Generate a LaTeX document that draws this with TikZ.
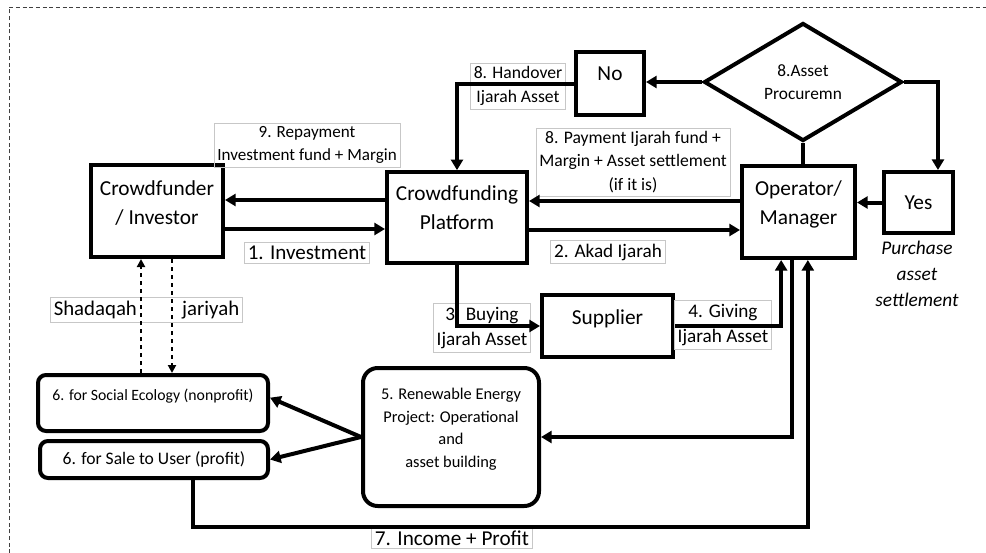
\documentclass[tikz,border=0pt]{standalone}
\usepackage{fontspec}
\setmainfont{Carlito}
\usetikzlibrary{arrows.meta,shapes.geometric}

\begin{document}
\begin{tikzpicture}[x=0.75pt,y=-0.75pt,>={Triangle[length=8pt,width=9pt]},
  box/.style={draw,line width=3pt,align=center,inner sep=0pt,
    font=\fontsize{16}{21.75}\selectfont},
  lbl/.style={draw=black!22,line width=0.5pt,align=center,inner sep=2.5pt},
  flow/.style={line width=3pt,->},
  gift/.style={line width=1.6pt,dashed,-{Triangle[length=6pt,width=6pt]}}]
\useasboundingbox (0,0) rectangle (986,553);
\draw[densely dashed,line width=0.5pt,black!75] (9,560) -- (9,7) -- (995,7);

\node[box,minimum width=99pt,minimum height=69pt,text depth=12.5pt] (crowd) at (157,211)
  {Crowdfunder\\/ Investor};
\node[box,minimum width=105pt,minimum height=68pt,text depth=14.5pt] (platform) at (457,217.5)
  {Crowdfunding\\Platform};
\node[box,minimum width=84.75pt,minimum height=69pt,text depth=13.5pt] (oper) at (798.5,212)
  {Operator/\\Manager};
\node[box,minimum width=51.75pt,minimum height=45.75pt] (yes) at (918.5,202.5) {Yes};
\node[box,minimum width=51pt,minimum height=47.25pt,text depth=14.5pt] (no) at (610,83.5) {No};
\node[box,diamond,minimum width=148.5pt,minimum height=88.5pt,
  font=\fontsize{13}{17.5}\selectfont] (asset) at (803,82) {8.Asset\\Procuremn};
\node[box,minimum width=98.25pt,minimum height=46.5pt,text depth=14pt] (supplier) at (607.5,326)
  {Supplier};
\node[box,rounded corners=11pt,minimum width=132pt,minimum height=103.5pt,text depth=14pt,
  font=\fontsize{12.3}{17}\selectfont] (renew) at (451,437)
  {5. Renewable Energy\\Project: Operational\\and\\asset building};
\node[box,rounded corners=6pt,minimum width=172.5pt,minimum height=42pt,text depth=12pt,
  font=\fontsize{11.8}{14}\selectfont] (social) at (153,403)
  {6. for Social Ecology (nonprofit)};
\node[box,rounded corners=6pt,minimum width=171pt,minimum height=27.75pt,
  font=\fontsize{13.2}{15}\selectfont] (sale) at (154,459.5)
  {6. for Sale to User (profit)};

\node[lbl,font=\fontsize{12.8}{17.25}\selectfont] (l9) at (307,145)
  {9. Repayment\\Investment fund + Margin};
\node[lbl,font=\fontsize{15.8}{18}\selectfont] (l1) at (307,253) {1. Investment};
\node[lbl,font=\fontsize{13.2}{18}\selectfont] (l8h) at (518,86)
  {8. Handover\\Ijarah Asset};
\node[lbl,font=\fontsize{13.2}{17.6}\selectfont] (l8p) at (633,162)
  {8. Payment Ijarah fund +\\Margin + Asset settlement\\(if it is)};
\node[lbl,font=\fontsize{14.4}{18}\selectfont] (l2) at (608,252) {2. Akad Ijarah};
\node[lbl,font=\fontsize{14.4}{19}\selectfont] (l3) at (482,328)
  {3. Buying\\Ijarah Asset};
\node[lbl,font=\fontsize{14.4}{19}\selectfont] (l4) at (723,325)
  {4. Giving\\Ijarah Asset};
\node[lbl,font=\fontsize{15.9}{18}\selectfont] (l7) at (452,538) {7. Income + Profit};
\node[lbl,font=\fontsize{15.6}{18}\selectfont] (lsj) at (146.5,310)
  {Shadaqah\hspace{34pt}jariyah};
\node[lbl,draw=none,font=\itshape\fontsize{14.5}{19.5}\selectfont] (lpa) at (917,274)
  {Purchase\\asset\\settlement};

\draw[flow] (platform.west |- 0,200) -- (crowd.east |- 0,200);
\draw[flow] (crowd.east |- 0,229) -- (platform.west |- 0,229);
\draw[flow] (oper.west |- 0,201) -- (platform.east |- 0,201);
\draw[flow] (platform.east |- 0,230) -- (oper.west |- 0,230);
\draw[flow] (asset.west) -- (no.east |- asset.west);
\draw[flow] (asset.east) -| ([xshift=14.6pt]yes.north);
\draw[line width=3pt] (asset.south) -- (asset.south |- oper.north);
\draw[flow] (yes.west) -- (oper.east |- yes.west);
\draw[flow] (no.west) -| (platform.north);
\draw[flow] (platform.south) |- (supplier.west);
\draw[flow] (supplier.east) -| ([xshift=-13pt]oper.south);
\draw[flow] ([xshift=-5pt]oper.south) |- (renew.east);
\draw[flow] ([xshift=29pt]sale.south) -- ++(0,47) -| ([xshift=7pt]oper.south);
\draw[flow] (renew.west) -- ([yshift=4pt]social.east);
\draw[flow] (renew.west) -- (sale.east);
\draw[gift] ([xshift=-9pt]social.north) -- ([xshift=-9pt]social.north |- crowd.south);
\draw[gift] ([xshift=11.25pt]crowd.south) -- ([xshift=11.25pt]crowd.south |- social.north);
\end{tikzpicture}
\end{document}
